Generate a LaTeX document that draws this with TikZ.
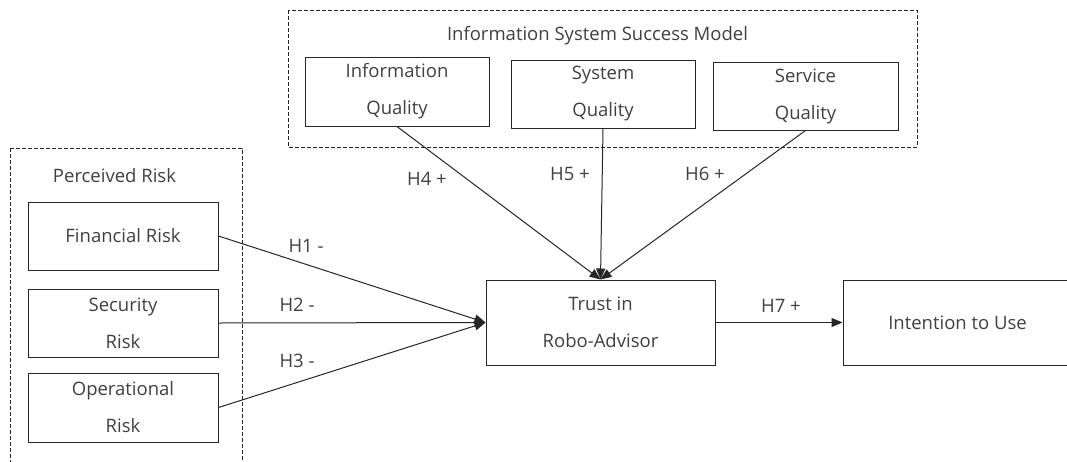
\documentclass[tikz,border=0pt]{standalone}
\usepackage{fontspec}
\setmainfont{Open Sans}
\usetikzlibrary{arrows.meta}
\begin{document}
\begin{tikzpicture}[x=1pt,y=-1pt,
  every node/.style={font=\fontsize{18.5}{37}\selectfont, text=black!75},
  box/.style={draw=black!85, line width=1pt, inner sep=0pt, align=center},
  group/.style={draw=black!85, line width=0.8pt, dash pattern=on 4pt off 2pt},
  link/.style={draw=black!85, line width=1pt, -{Triangle[length=11pt,width=9pt]}},
  lbl/.style={anchor=base, inner sep=0pt}]
\useasboundingbox (0,0) rectangle (1067,461);

% dashed groups
\draw[group] (10,148) rectangle (242,470);
\draw[group] (288,10) rectangle (917,147);
\node[lbl] (prlbl) at (114.5,182) {Perceived Risk};
\node[lbl] (islbl) at (597.5,40) {Information System Success Model};

% risk constructs
\node[box, minimum width=190pt, minimum height=68pt] (fin) at (123,236) {Financial Risk};
\node[box, minimum width=190pt, minimum height=68pt] (sec) at (123,323) {Security\\Risk};
\node[box, minimum width=190pt, minimum height=69pt] (ope) at (123,407.5) {Operational\\Risk};

% quality constructs
\node[box, minimum width=184pt, minimum height=69pt] (infq) at (397,91.5) {Information\\Quality};
\node[box, minimum width=184pt, minimum height=68pt] (sysq) at (603,94) {System\\Quality};
\node[box, minimum width=185pt, minimum height=68pt] (serq) at (805.5,96) {Service\\Quality};

% outcome constructs
\node[box, minimum width=229pt, minimum height=85pt] (trust) at (600.5,322.5) {Trust in\\Robo-Advisor};
\node[box, minimum width=229pt, minimum height=85pt] (intent) at (957.5,322.5) {Intention to Use};

% hypotheses
\draw[link] (fin.east) -- (trust.west);
\draw[link] (sec.east) -- (trust.west);
\draw[link] (ope.east) -- (trust.west);
\draw[link] (infq.south) -- (trust.north);
\draw[link] (sysq.south) -- (trust.north);
\draw[link] (serq.south) -- (trust.north);
\draw[link] (trust.east) -- (intent.west);

\node[lbl] (h1) at (306,252) {H1 -};
\node[lbl] (h2) at (297,311) {H2 -};
\node[lbl] (h3) at (297,367) {H3 -};
\node[lbl] (h4) at (427,185) {H4 +};
\node[lbl] (h5) at (570,180) {H5 +};
\node[lbl] (h6) at (705,180) {H6 +};
\node[lbl] (h7) at (781,312) {H7 +};
\end{tikzpicture}
\end{document}
